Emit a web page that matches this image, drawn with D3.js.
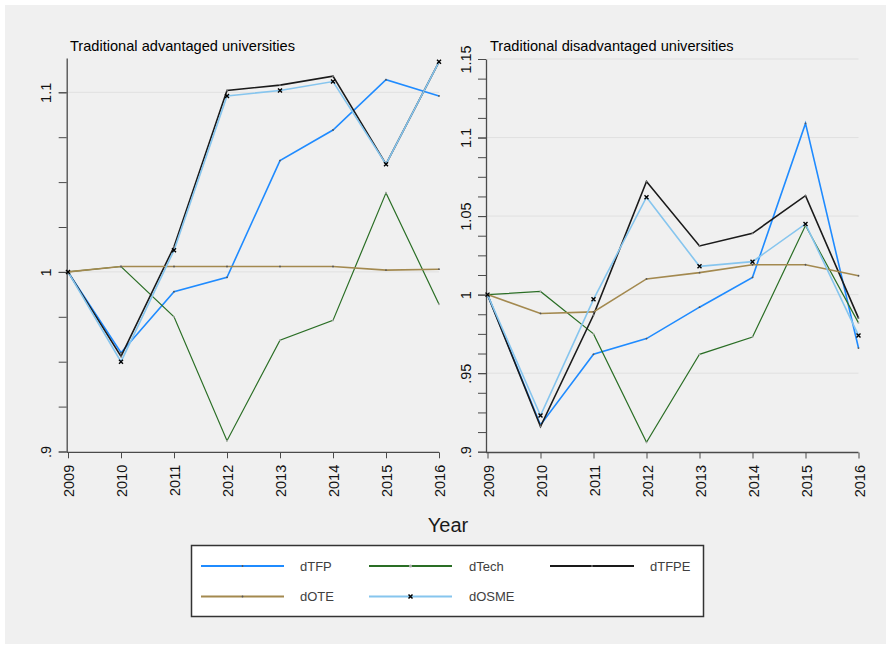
<!DOCTYPE html>
<html><head><meta charset="utf-8">
<script src="https://cdn.jsdelivr.net/npm/d3@7"></script>
<style>
body{margin:0;background:#fff;}
svg{display:block;font-family:"Liberation Sans",Arial,sans-serif;}
</style></head>
<body>
<svg id="chart" width="886" height="645"></svg>
<script>
const years = [2009, 2010, 2011, 2012, 2013, 2014, 2015, 2016];

// Traditional advantaged universities
const advTFP  = [1.000, 0.955, 0.989, 0.997, 1.062, 1.079, 1.107, 1.098];
const advTech = [1.000, 1.003, 0.975, 0.906, 0.962, 0.973, 1.044, 0.982];
const advTFPE = [1.000, 0.953, 1.014, 1.101, 1.104, 1.109, 1.060, 1.117];
const advOTE  = [1.000, 1.003, 1.003, 1.003, 1.003, 1.003, 1.001, 1.0015];
const advOSME = [1.000, 0.950, 1.012, 1.098, 1.101, 1.106, 1.060, 1.117];

// Traditional disadvantaged universities
const disTFP  = [1.000, 0.917, 0.962, 0.972, 0.992, 1.011, 1.109, 0.966];
const disTech = [1.000, 1.002, 0.975, 0.906, 0.962, 0.973, 1.044, 0.982];
const disTFPE = [1.000, 0.916, 0.987, 1.072, 1.031, 1.039, 1.063, 0.985];
const disOTE  = [1.000, 0.988, 0.989, 1.010, 1.014, 1.019, 1.019, 1.012];
const disOSME = [1.000, 0.923, 0.997, 1.062, 1.018, 1.021, 1.045, 0.974];

const seriesNames = ["dTFP", "dTech", "dTFPE", "dOTE", "dOSME"];
const panelTitles = ["Traditional advantaged universities", "Traditional disadvantaged universities"];
const advTickValues = [0.9, 1.0, 1.1];
const advTickLabels = [".9", "1", "1.1"];
const disTickValues = [0.9, 0.95, 1.0, 1.05, 1.1, 1.15];
const disTickLabels = [".9", ".95", "1", "1.05", "1.1", "1.15"];
const xTitle = "Year";

const styles = {
  dTFP:  {color: "#1f8bff", width: 1.6, marker: "dot", mcolor: "#555"},
  dTech: {color: "#2a6e25", width: 1.2, marker: "dot", mcolor: "#aaa"},
  dTFPE: {color: "#1a1a1a", width: 1.6, marker: "dot", mcolor: "#777"},
  dOTE:  {color: "#a3894f", width: 1.6, marker: "dot", mcolor: "#555"},
  dOSME: {color: "#86c5ee", width: 1.6, marker: "x",   mcolor: "#000"}
};

const svg = d3.select("#chart");
svg.append("rect").attr("x", 5).attr("y", 5).attr("width", 881).attr("height", 639).attr("fill", "#f0f0f0");

const panels = [
  {title: panelTitles[0], data: [advTFP, advTech, advTFPE, advOTE, advOSME],
   xr: [68, 439], axisX: 66.7, yDomain: [0.9, 1.1191], yRange: [451.5, 58],
   minorStep: 0.025, ticks: advTickValues, labels: advTickLabels, titleX: 70},
  {title: panelTitles[1], data: [disTFP, disTech, disTFPE, disOTE, disOSME],
   xr: [487.5, 858.5], axisX: 486, yDomain: [0.9, 1.15], yRange: [451.7, 59],
   minorStep: 0.0125, ticks: disTickValues, labels: disTickLabels, titleX: 490}
];

const axisColor = "#4a4a4a";

panels.forEach(p => {
  const x = d3.scaleLinear().domain([years[0], years[years.length - 1]]).range(p.xr);
  const y = d3.scaleLinear().domain(p.yDomain).range(p.yRange);
  const g = svg.append("g");

  // grid lines
  g.selectAll("line.grid").data(p.ticks.filter(t => t > p.yDomain[0] + 1e-9))
    .join("line").attr("class", "grid")
    .attr("x1", p.axisX + 1).attr("x2", p.xr[1])
    .attr("y1", d => y(d)).attr("y2", d => y(d))
    .attr("stroke", "#e0e0e0").attr("stroke-width", 1);

  // minor ticks
  const minors = d3.range(Math.round((p.yDomain[1] - p.yDomain[0]) / p.minorStep + 1e-6) + 1)
    .map(i => p.yDomain[0] + i * p.minorStep).filter(v => v <= p.yDomain[1] + 1e-9);
  const yMinor = g.append("g").attr("transform", `translate(${p.axisX},0)`)
    .call(d3.axisLeft(y).tickValues(minors).tickSize(8).tickSizeOuter(0).tickFormat(""));
  yMinor.select(".domain").attr("stroke", axisColor).attr("stroke-width", 1.3);
  yMinor.selectAll(".tick line").attr("stroke", axisColor);

  // major labels
  const yMajor = g.append("g").attr("transform", `translate(${p.axisX},0)`)
    .call(d3.axisLeft(y).tickValues(p.ticks).tickSize(8).tickSizeOuter(0)
      .tickFormat((d, i) => p.labels[i]));
  yMajor.select(".domain").remove();
  yMajor.selectAll(".tick line").attr("stroke", axisColor);
  yMajor.selectAll(".tick text")
    .attr("x", null).attr("dy", null)
    .attr("transform", "translate(-15.3,0) rotate(-90)")
    .attr("text-anchor", "middle")
    .attr("fill", "#111").style("font-size", "14.5px").style("font-family", "Liberation Sans, Arial, sans-serif");

  // x axis
  const xa = g.append("g").attr("transform", `translate(0,${p.yRange[0] + 0.8})`)
    .call(d3.axisBottom(x).tickValues(years).tickSize(6).tickSizeOuter(0).tickFormat(d3.format("d")));
  xa.select(".domain").attr("stroke", axisColor).attr("stroke-width", 1.3)
    .attr("d", `M${p.axisX},0H${p.xr[1]}`);
  xa.selectAll(".tick line").attr("stroke", axisColor);
  xa.selectAll(".tick text")
    .attr("y", null).attr("dy", null)
    .attr("transform", "translate(5.5,12.5) rotate(-90)")
    .attr("text-anchor", "end")
    .attr("fill", "#111").style("font-size", "14.5px").style("font-family", "Liberation Sans, Arial, sans-serif");

  // title
  g.append("text").attr("x", p.titleX).attr("y", 50.5).text(p.title)
    .attr("fill", "#000").style("font-size", "14.6px");

  // lines
  const line = d3.line().x((d, i) => x(years[i])).y(d => y(d));
  p.data.forEach((vals, si) => {
    const st = styles[seriesNames[si]];
    g.append("path").datum(vals).attr("d", line)
      .attr("fill", "none").attr("stroke", st.color).attr("stroke-width", st.width)
      .attr("stroke-linejoin", "miter");
  });
  p.data.forEach((vals, si) => {
    const st = styles[seriesNames[si]];
    const mg = g.append("g");
    vals.forEach((v, i) => {
      const cx = x(years[i]), cy = y(v);
      if (st.marker === "x") {
        mg.append("path").attr("d", `M${cx-2},${cy-2}L${cx+2},${cy+2}M${cx-2},${cy+2}L${cx+2},${cy-2}`)
          .attr("stroke", st.mcolor).attr("stroke-width", 1.4);
      } else {
        mg.append("circle").attr("cx", cx).attr("cy", cy).attr("r", 0.9).attr("fill", st.mcolor);
      }
    });
  });
});

// x title
svg.append("text").attr("x", 448).attr("y", 531.5).attr("text-anchor", "middle")
  .text(xTitle).attr("fill", "#1a1a1a").style("font-size", "20px");

// legend
const lg = svg.append("g");
lg.append("rect").attr("x", 191.5).attr("y", 545.5).attr("width", 512).attr("height", 71)
  .attr("fill", "#fff").attr("stroke", "#333").attr("stroke-width", 1.5);
const colX = [[201, 284, 300], [369, 452, 469], [550, 634, 650]];
const rowY = [566, 596.5];
seriesNames.forEach((name, i) => {
  const c = colX[i % 3], ry = rowY[Math.floor(i / 3)];
  const st = styles[name];
  lg.append("line").attr("x1", c[0]).attr("x2", c[1]).attr("y1", ry).attr("y2", ry)
    .attr("stroke", st.color).attr("stroke-width", 1.8);
  const mx = (c[0] + c[1]) / 2;
  if (st.marker === "x") {
    lg.append("path").attr("d", `M${mx-2},${ry-2}L${mx+2},${ry+2}M${mx-2},${ry+2}L${mx+2},${ry-2}`)
      .attr("stroke", st.mcolor).attr("stroke-width", 1.5);
  } else {
    lg.append("circle").attr("cx", mx).attr("cy", ry).attr("r", name === "dTech" ? 1.6 : 0.9).attr("fill", st.mcolor);
  }
  lg.append("text").attr("x", c[2]).attr("y", ry + 4.7).text(name)
    .attr("fill", "#404040").style("font-size", "13px");
});
</script>
</body></html>
